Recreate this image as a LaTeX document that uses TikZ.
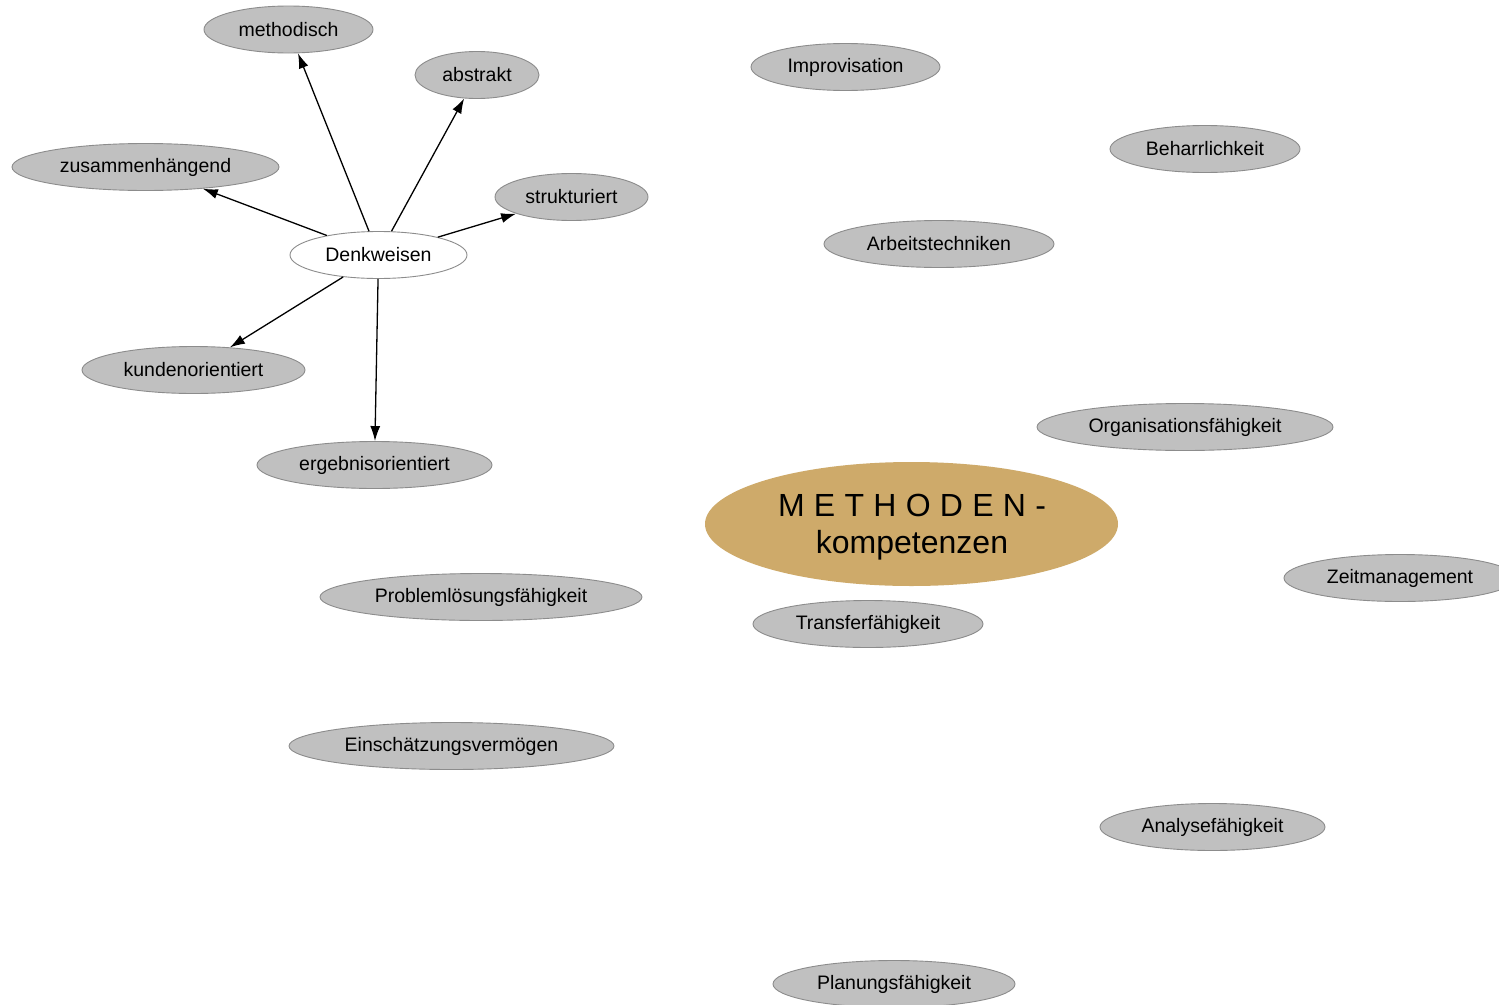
\documentclass[tikz,border=0pt]{standalone}
\usepackage{fontspec}
\setmainfont{Liberation Sans}
\usetikzlibrary{shapes.geometric,arrows.meta}
\definecolor{leafgray}{HTML}{C0C0C0}
\definecolor{leafline}{HTML}{8C8C8C}
\definecolor{coretan}{HTML}{CEAA6A}
\begin{document}
\begin{tikzpicture}[x=1pt,y=-1pt,
  leaf/.style={ellipse,draw=leafline,fill=leafgray,line width=0.9pt,inner sep=0pt,
    minimum height=47pt,font=\fontsize{19.5}{22}\selectfont},
  hub/.style={ellipse,draw=leafline,fill=white,line width=0.9pt,inner sep=0pt,
    minimum height=47pt,font=\fontsize{19.5}{22}\selectfont},
  core/.style={ellipse,fill=coretan,inner sep=0pt},
  coretext/.style={inner sep=0pt,align=center,font=\fontsize{32}{37}\selectfont},
  link/.style={line width=1.3pt,-{Latex[length=15pt,width=10pt]}}]
\useasboundingbox (0,0) rectangle (1499,1004);
\clip (0,0) rectangle (1499,1004);
\fill[white] (0,0) rectangle (1499,1004);

% central topic
\node[core,minimum width=413pt,minimum height=124pt] (core) at (911.5,524) {};
\node[coretext] (corelabel) at (912,527.5)
  {{\addfontfeature{LetterSpace=29}METHODEN-}\\kompetenzen};

% Denkweisen cluster
\node[hub,minimum width=177pt] (denk) at (378.5,255) {Denkweisen};
\node[leaf,minimum width=169pt] (meth) at (288.5,29.5) {methodisch};
\node[leaf,minimum width=124pt] (abst) at (477,75) {abstrakt};
\node[leaf,minimum width=267pt] (zusa) at (145.5,167) {zusammenhängend};
\node[leaf,minimum width=153pt] (stru) at (571.5,197) {strukturiert};
\node[leaf,minimum width=223pt] (kund) at (193.5,370) {kundenorientiert};
\node[leaf,minimum width=235pt] (ergb) at (374.5,465) {ergebnisorientiert};

\draw[link] (denk) -- (meth);
\draw[link] (denk) -- (abst);
\draw[link] (denk) -- (zusa);
\draw[link] (denk) -- (stru);
\draw[link] (denk) -- (kund);
\draw[link] (denk) -- (ergb);

% further method competences
\node[leaf,minimum width=189pt] (impr) at (845.5,67) {Improvisation};
\node[leaf,minimum width=190pt] (beha) at (1205,149) {Beharrlichkeit};
\node[leaf,minimum width=230pt] (arbt) at (939,244) {Arbeitstechniken};
\node[leaf,minimum width=296pt] (orga) at (1185,427) {Organisationsfähigkeit};
\node[leaf,minimum width=232pt] (zeit) at (1400,578) {Zeitmanagement};
\node[leaf,minimum width=322pt] (prob) at (481,597) {Problemlösungsfähigkeit};
\node[leaf,minimum width=230pt] (tran) at (868,624) {Transferfähigkeit};
\node[leaf,minimum width=325pt] (eins) at (451.5,746) {Einschätzungsvermögen};
\node[leaf,minimum width=225pt] (anal) at (1212.5,827) {Analysefähigkeit};
\node[leaf,minimum width=242pt] (plan) at (894,984) {Planungsfähigkeit};
\end{tikzpicture}
\end{document}
